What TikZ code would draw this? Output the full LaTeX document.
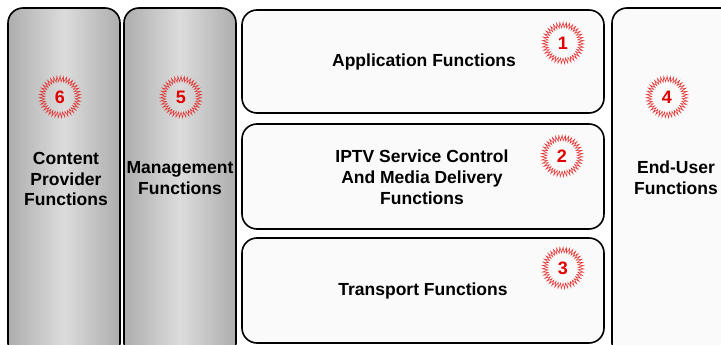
\documentclass[tikz,border=0pt]{standalone}
\usepackage{fontspec}
\setmainfont{Liberation Sans}
\usetikzlibrary{decorations.pathmorphing}
\definecolor{badgered}{HTML}{E23A3A}
\definecolor{numred}{HTML}{E00000}
\definecolor{boxfill}{HTML}{FAFAFA}
\definecolor{gedge}{HTML}{ADADAD}
\definecolor{gmid}{HTML}{DCDCDC}
\tikzset{
  panel/.style={draw=black, line width=1.6pt, rounded corners=15pt, fill=boxfill},
  graypanel/.style={draw=black, line width=1.6pt, rounded corners=15pt,
    left color=gedge, right color=gedge, middle color=gmid},
  lbl/.style={font=\bfseries\fontsize{17.5}{20.8}\selectfont, align=center, inner sep=0pt},
  badge/.style={circle, minimum size=36pt, inner sep=0pt, draw=badgered, line width=0.6pt,
    decorate, decoration={zigzag, amplitude=2.7pt, segment length=2.9pt},
    font=\bfseries\fontsize{18}{18}\selectfont, text=numred}
}
\begin{document}
\begin{tikzpicture}[x=1pt,y=-1pt]
\useasboundingbox (0,0) rectangle (721,345);
\clip (0,0) rectangle (721,345);
% tall panels
\draw[graypanel] (8,8) rectangle (120,358);
\draw[graypanel] (124,8) rectangle (236,358);
\draw[panel] (612,8) rectangle (740,358);
% horizontal panels
\draw[panel] (242,10) rectangle (604,113);
\draw[panel] (242,124) rectangle (604,229);
\draw[panel] (242,238) rectangle (604,343);
% labels
\node[lbl] (cp) at (66,179) {Content\\Provider\\Functions};
\node[lbl] (mg) at (180,178) {Management\\Functions};
\node[lbl] (eu) at (676,178) {End-User\\Functions};
\node[lbl] (ap) at (424,62) {Application Functions};
\node[lbl] (iptv) at (422,177) {IPTV Service Control\\And Media Delivery\\Functions};
\node[lbl] (tr) at (423,291) {Transport Functions};
% badges
\node[badge] (b6) at (60,97) {6};
\node[badge] (b5) at (181,97) {5};
\node[badge] (b1) at (563,43) {1};
\node[badge] (b2) at (562,156) {2};
\node[badge] (b3) at (563,268) {3};
\node[badge] (b4) at (667,97) {4};
\end{tikzpicture}
\end{document}
